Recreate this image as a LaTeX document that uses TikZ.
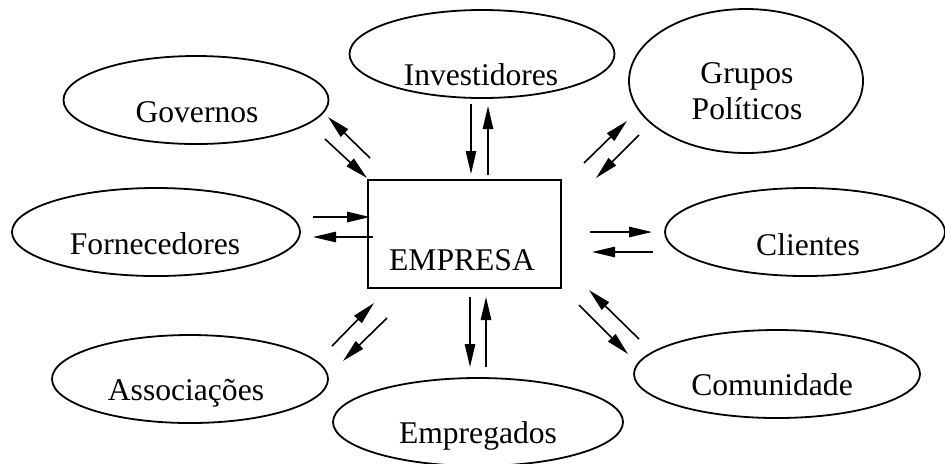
\documentclass[tikz,border=0pt]{standalone}
\usepackage{fontspec}
\setmainfont{Liberation Serif}
\usetikzlibrary{shapes.geometric,arrows.meta}
\begin{document}
\begin{tikzpicture}[x=0.5pt,y=-0.5pt,
  ell/.style={draw,ellipse,line width=0.9pt,inner sep=0pt},
  lbl/.style={anchor=base,inner sep=0pt,font=\fontsize{15.8}{19}\selectfont},
  arr/.style={line width=0.8pt,-{Triangle[length=11.5pt,width=5.2pt]}}]
\useasboundingbox (0,0) rectangle (945,463);
% ellipses
\node[ell,minimum width=265pt*0.5,minimum height=88pt*0.5] (gov) at (196,100) {};
\node[ell,minimum width=265pt*0.5,minimum height=88pt*0.5] (inv) at (482,54) {};
\node[ell,minimum width=234pt*0.5,minimum height=144pt*0.5] (grp) at (746,81) {};
\node[ell,minimum width=288pt*0.5,minimum height=88pt*0.5] (forn) at (156,232) {};
\node[ell,minimum width=280pt*0.5,minimum height=88pt*0.5] (cli) at (805,232) {};
\node[ell,minimum width=276pt*0.5,minimum height=88pt*0.5] (assoc) at (190,379) {};
\node[ell,minimum width=290pt*0.5,minimum height=88pt*0.5] (emp) at (478,422) {};
\node[ell,minimum width=286pt*0.5,minimum height=88pt*0.5] (com) at (777,374) {};
% box
\node[draw,line width=0.9pt,inner sep=0pt,minimum width=193pt*0.5,minimum height=108pt*0.5] (box) at (464.5,234) {};
% labels
\node[lbl] (tgov) at (197,122) {Governos};
\node[lbl] (tinv) at (481,85) {Investidores};
\node[lbl] (tgrp1) at (747,83) {Grupos};
\node[lbl] (tgrp2) at (747,119) {Políticos};
\node[lbl] (tforn) at (155,254) {Fornecedores};
\node[lbl] (tcli) at (808,255) {Clientes};
\node[lbl] (tassoc) at (186,400) {Associações};
\node[lbl] (temp) at (478,443) {Empregados};
\node[lbl] (tcom) at (772,395) {Comunidade};
\node[lbl] (tbox) at (462,270) {EMPRESA};
% arrow end points
\coordinate (g1a) at (325,139); \coordinate (g1b) at (367,178);
\coordinate (g2a) at (370,158); \coordinate (g2b) at (328,117);
\coordinate (i1a) at (471,104); \coordinate (i1b) at (471,174);
\coordinate (i2a) at (488,175); \coordinate (i2b) at (488,106);
\coordinate (p1a) at (584,163); \coordinate (p1b) at (627,121);
\coordinate (p2a) at (639,135); \coordinate (p2b) at (596,178);
\coordinate (f1a) at (313,217); \coordinate (f1b) at (370,217);
\coordinate (f2a) at (373,237); \coordinate (f2b) at (313,237);
\coordinate (c1a) at (590,232); \coordinate (c1b) at (652,232);
\coordinate (c2a) at (653,252); \coordinate (c2b) at (592,252);
\coordinate (m1a) at (579,305); \coordinate (m1b) at (628,354);
\coordinate (m2a) at (639,339); \coordinate (m2b) at (589,290);
\coordinate (e1a) at (470,297); \coordinate (e1b) at (470,367);
\coordinate (e2a) at (486,367); \coordinate (e2b) at (486,297);
\coordinate (a1a) at (332,346); \coordinate (a1b) at (374,303);
\coordinate (a2a) at (387,318); \coordinate (a2b) at (343,361);
% arrows
\draw[arr] (g1a) -- (g1b);
\draw[arr] (g2a) -- (g2b);
\draw[arr] (i1a) -- (i1b);
\draw[arr] (i2a) -- (i2b);
\draw[arr] (p1a) -- (p1b);
\draw[arr] (p2a) -- (p2b);
\draw[arr] (f1a) -- (f1b);
\draw[arr] (f2a) -- (f2b);
\draw[arr] (c1a) -- (c1b);
\draw[arr] (c2a) -- (c2b);
\draw[arr] (m1a) -- (m1b);
\draw[arr] (m2a) -- (m2b);
\draw[arr] (e1a) -- (e1b);
\draw[arr] (e2a) -- (e2b);
\draw[arr] (a1a) -- (a1b);
\draw[arr] (a2a) -- (a2b);
\end{tikzpicture}
\end{document}
